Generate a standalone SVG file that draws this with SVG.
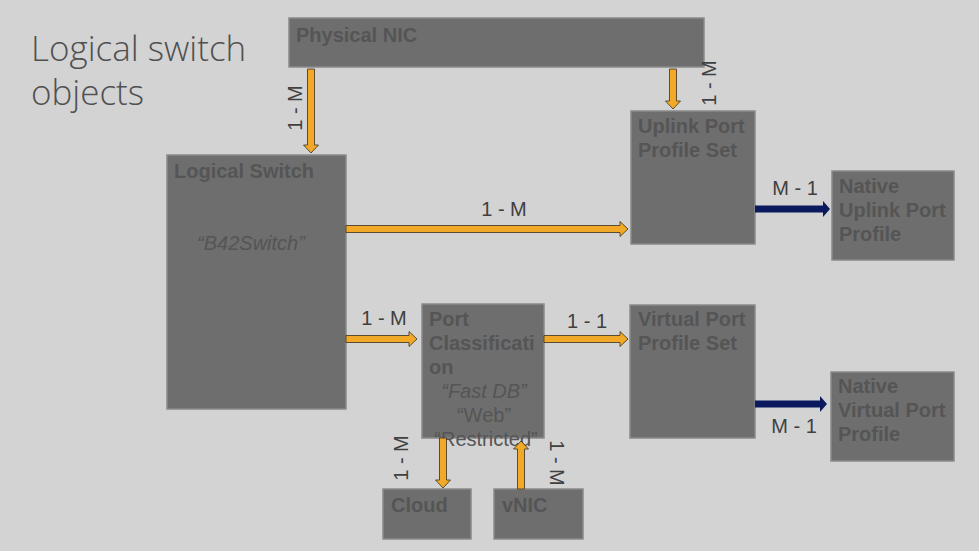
<svg xmlns="http://www.w3.org/2000/svg" width="979" height="551" viewBox="0 0 979 551">
<style>
.box{fill:#6e6e6e;stroke:#8a8a8a;stroke-width:1.5}
.bt{font-family:"Liberation Sans",Arial,sans-serif;font-weight:bold;font-size:20px;fill:#555555}
.it{font-family:"Liberation Sans",Arial,sans-serif;font-style:italic;font-size:20px;fill:#555555;text-anchor:middle}
.rt{font-family:"Liberation Sans",Arial,sans-serif;font-size:20px;fill:#555555;text-anchor:middle}
.lb{font-family:"Liberation Sans",Arial,sans-serif;font-size:20px;fill:#404040;text-anchor:middle}
.oa{fill:#f2a928;stroke:#3a3020;stroke-width:0.8}
.na{fill:#0b1a5e}
.title{font-family:"Open Sans","Noto Sans",sans-serif;font-weight:300;font-size:35px;fill:#505050}
</style>
<rect width="979" height="551" fill="#d3d3d3"/>
<g id="title">
<text class="title" x="31" y="61">Logical switch</text>
<text class="title" x="31" y="105">objects</text>
</g>
<g id="physical-nic"><rect class="box" x="289" y="18" width="415" height="49"/><text class="bt" x="296" y="42">Physical NIC</text></g>
<g id="uplink-port-profile-set"><rect class="box" x="631" y="111" width="124" height="133"/><text class="bt" x="638" y="133">Uplink Port</text><text class="bt" x="638" y="157">Profile Set</text></g>
<g id="logical-switch"><rect class="box" x="167" y="155" width="179" height="254"/><text class="bt" x="174" y="178">Logical Switch</text><text class="it" x="251" y="250">“B42Switch”</text></g>
<g id="port-classification"><rect class="box" x="422" y="304" width="122" height="134"/><text class="bt" x="429" y="326">Port</text><text class="bt" x="429" y="350">Classificati</text><text class="bt" x="429" y="374">on</text><text class="it" x="484" y="398">“Fast DB”</text><text class="rt" x="484" y="422">“Web”</text><text class="rt" x="486" y="446">“Restricted”</text></g>
<g id="virtual-port-profile-set"><rect class="box" x="630" y="305" width="125" height="133"/><text class="bt" x="638" y="326">Virtual Port</text><text class="bt" x="638" y="350">Profile Set</text></g>
<g id="native-uplink-port-profile"><rect class="box" x="832" y="171" width="122" height="89"/><text class="bt" x="839" y="193">Native</text><text class="bt" x="839" y="217">Uplink Port</text><text class="bt" x="839" y="241">Profile</text></g>
<g id="native-virtual-port-profile"><rect class="box" x="831" y="372" width="123" height="89"/><text class="bt" x="838" y="393">Native</text><text class="bt" x="838" y="417">Virtual Port</text><text class="bt" x="838" y="441">Profile</text></g>
<g id="cloud"><rect class="box" x="383" y="489" width="88" height="50"/><text class="bt" x="391" y="512">Cloud</text></g>
<g id="vnic"><rect class="box" x="494" y="489" width="89" height="50"/><text class="bt" x="502" y="512">vNIC</text></g>
<g id="connectors">
<polygon class="oa" points="307.5,69 314.5,69 314.5,145 318.5,145 311,153 303.5,145 307.5,145"/>
<polygon class="oa" points="669.5,69 676.5,69 676.5,101 680.5,101 673,109 665.5,101 669.5,101"/>
<polygon class="oa" points="346,225.5 620,225.5 620,221.5 628,229 620,236.5 620,232.5 346,232.5"/>
<polygon class="oa" points="346,335.5 409,335.5 409,331.5 417,339 409,346.5 409,342.5 346,342.5"/>
<polygon class="oa" points="544,335.5 620,335.5 620,331.5 628,339 620,346.5 620,342.5 544,342.5"/>
<polygon class="oa" points="439.5,438 446.5,438 446.5,480 450.5,480 443,488 435.5,480 439.5,480"/>
<polygon class="oa" points="517.5,489 524.5,489 524.5,449 528.5,449 521,441 513.5,449 517.5,449"/>
<polygon class="na" points="755,205.5 823,205.5 823,201 830,209 823,217 823,212.5 755,212.5"/>
<polygon class="na" points="755,400.5 820,400.5 820,396 827,404 820,412 820,407.5 755,407.5"/>
<text class="lb" transform="translate(302,108) rotate(-90)">1 - M</text>
<text class="lb" transform="translate(716,83) rotate(-90)">1 - M</text>
<text class="lb" x="504" y="216">1 - M</text>
<text class="lb" x="384" y="325">1 - M</text>
<text class="lb" x="587" y="328">1 - 1</text>
<text class="lb" x="795" y="195">M - 1</text>
<text class="lb" x="794" y="433">M - 1</text>
<text class="lb" transform="translate(408,458) rotate(-90)">1 - M</text>
<text class="lb" transform="translate(550,463) rotate(90)">1 - M</text>
</g>
</svg>
